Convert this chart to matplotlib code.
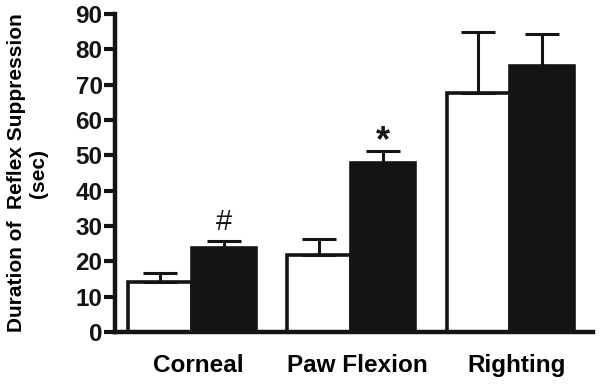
import matplotlib.pyplot as plt
import matplotlib.transforms as mtransforms
import numpy as np

plt.rcParams['font.family'] = ['Liberation Sans', 'DejaVu Sans']

# data
categories = ["Corneal", "Paw Flexion", "Righting"]
control = [14.2, 21.8, 67.7]
control_err = [2.6, 4.4, 17.3]
treated = [23.7, 47.9, 75.4]
treated_err = [2.1, 3.4, 8.8]
marks = ["#", "*", ""]

x = np.arange(len(categories))
w = 0.4

fig = plt.figure(figsize=(6.0, 3.84), dpi=100)
ax = fig.add_axes([115/600, 52/384, 478/600, 318/384])

ekw = dict(ecolor="#141414", elinewidth=2.2, capsize=12, capthick=2.2)
ax.bar(x - w/2, control, w, color="white", edgecolor="#141414", linewidth=2.6,
       yerr=[np.zeros(3), control_err], error_kw=ekw)
ax.bar(x + w/2, treated, w, color="#141414", edgecolor="#141414", linewidth=2.6,
       yerr=[np.zeros(3), treated_err], error_kw=ekw)

for i, m in enumerate(marks):
    if m == "#":
        ax.text(x[i] + w/2, treated[i] + treated_err[i] + 1.5, m, ha="center", va="bottom",
                fontsize=21, color="#141414")
    elif m:
        ax.text(x[i] + w/2, treated[i] + treated_err[i] - 2.4, m, ha="center", va="bottom",
                fontsize=26, fontweight="bold", color="#141414")

ax.set_xlim(-0.484, 2.52)
ax.set_ylim(0, 90)
ax.set_yticks(range(0, 91, 10))
ax.set_xticks(x)
ax.set_xticklabels(categories, fontsize=17.5, fontweight="bold")
ax.tick_params(axis="x", length=0, pad=16)
ax.tick_params(axis="y", length=8, width=3, labelsize=17.5, pad=1, colors="#141414")
for lbl in ax.get_yticklabels():
    lbl.set_fontweight("bold")

# nudge category labels a little to the right, as in the original
shift = mtransforms.ScaledTranslation(0.06, 0, fig.dpi_scale_trans)
for lbl in ax.get_xticklabels():
    lbl.set_transform(lbl.get_transform() + shift)

for s in ["top", "right"]:
    ax.spines[s].set_visible(False)
for s in ["left", "bottom"]:
    ax.spines[s].set_linewidth(3.2)
    ax.spines[s].set_color("#141414")

ax.set_ylabel("Duration of  Reflex Suppression\n(sec)", fontsize=15, fontweight="bold")
ax.yaxis.set_label_coords(-0.14, 0.5)

plt.savefig("out.png", dpi=100)
